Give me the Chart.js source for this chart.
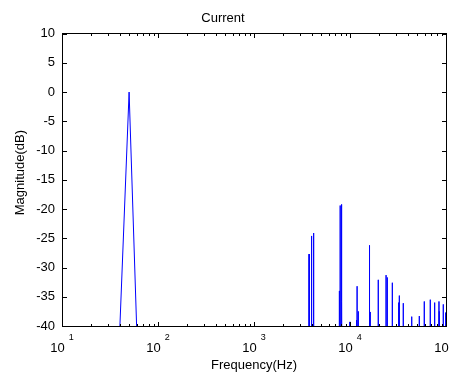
<!DOCTYPE html>
<html>
<head>
<meta charset="utf-8">
<script src="https://cdn.jsdelivr.net/npm/chart.js@4.4.0/dist/chart.umd.min.js"></script>
<style>
  html, body { margin: 0; padding: 0; background: #fff; }
  canvas { display: block; }
</style>
</head>
<body>
<canvas id="chart" width="451" height="373"></canvas>
<script>
// spectrum lines (Hz / dB)
const spikeHz = [40, 50, 60,
  3750, 3950, 4000, 4150, 4200,
  7750, 7900, 8100, 8250,
  10000,
  11700, 11850, 12200,
  15800, 15950, 16100, 16250,
  19700,
  23750, 24450,
  27600,
  32150, 32650,
  35900,
  43950,
  52700,
  59400,
  68600,
  76200,
  84500, 85100,
  93700,
  98400, 99800];
const spikeDb = [-40.5, 0, -40.5,
  -27.7, -24.6, -34.1, -24.1, -27.8,
  -34.0, -19.4, -19.2, -35.8,
  -39.3,
  -39.0, -33.2, -37.5,
  -37.6, -26.2, -26.2, -37.6,
  -32.1,
  -31.3, -31.7,
  -32.6,
  -36.0, -34.8,
  -36.1,
  -38.4,
  -38.3,
  -35.8,
  -35.5,
  -36.0,
  -35.8, -37.5,
  -36.3,
  -38.6, -37.7];
const binHz = 10;        // FFT bin spacing
const floorDb = -60;     // bins below the axis limit
const yTicks = [10, 5, 0, -5, -10, -15, -20, -25, -30, -35, -40];
const decades = [10, 100, 1000, 10000, 100000];

const FONT = '"Liberation Sans", Arial, sans-serif';

// line through the bins, dropping to the floor between separated lines
const points = [];
spikeHz.forEach((f, i) => {
  const prev = points.length ? points[points.length - 1].x : -Infinity;
  if (prev < f - binHz) points.push({ x: f - binHz, y: floorDb });
  points.push({ x: f, y: spikeDb[i] });
  const next = i + 1 < spikeHz.length ? spikeHz[i + 1] : Infinity;
  if (next > f + binHz) points.push({ x: f + binHz, y: floorDb });
});

// minor ticks of the log axis: 2..9 inside every decade
const minorTicks = [];
decades.slice(0, -1).forEach(d => {
  for (let m = 2; m <= 9; m++) minorTicks.push(d * m);
});

// matlab style box: frame, inward ticks, 10^n labels
const matlabBox = {
  id: 'matlabBox',
  afterDraw(chart) {
    const { ctx, chartArea: a, scales: { x, y } } = chart;
    // same pixel rows/cols the axis borders use
    const L = Math.round(a.left - 0.5), R = Math.round(a.right - 0.5);
    const T = Math.round(a.top - 0.5), B = Math.round(a.bottom - 0.5);
    ctx.save();
    ctx.fillStyle = '#000';
    ctx.fillRect(L, T, R - L + 1, 1);
    ctx.fillRect(L, B, R - L + 1, 1);
    ctx.fillRect(L, T, 1, B - T + 1);
    ctx.fillRect(R, T, 1, B - T + 1);
    // x ticks, top and bottom
    const xTick = (v, len) => {
      const px = Math.round(x.getPixelForValue(v));
      ctx.fillRect(px, B - len + 1, 1, len);
      ctx.fillRect(px, T, 1, len);
    };
    decades.forEach(v => xTick(v, 5));
    minorTicks.forEach(v => xTick(v, 3));
    // y ticks, left and right
    yTicks.forEach(v => {
      const py = Math.round(y.getPixelForValue(v));
      ctx.fillRect(L, py, 5, 1);
      ctx.fillRect(R - 4, py, 5, 1);
    });

    // 10^n labels
    ctx.textBaseline = 'alphabetic';
    ctx.textAlign = 'left';
    decades.forEach(d => {
      const exp = String(Math.round(Math.log10(d)));
      ctx.font = '13px ' + FONT;
      const wb = ctx.measureText('10').width;
      ctx.font = '9px ' + FONT;
      const we = ctx.measureText(exp).width;
      const px = x.getPixelForValue(d);
      const start = px - (wb + 4 + we) / 2;
      ctx.font = '13px ' + FONT;
      ctx.fillText('10', start, a.bottom + 25.5);
      ctx.font = '9px ' + FONT;
      ctx.fillText(exp, start + wb + 4, a.bottom + 13.5);
    });
    ctx.restore();
  }
};

const axisLine = { display: true, color: '#000', width: 1 };
const noGrid = { display: false, drawTicks: false };

new Chart(document.getElementById('chart'), {
  type: 'line',
  data: {
    datasets: [{
      data: points,
      borderColor: '#0000ff',
      borderWidth: 1,
      pointRadius: 0,
      tension: 0,
      fill: false
    }]
  },
  options: {
    responsive: false,
    animation: false,
    layout: { padding: { left: 0, right: 5, top: 0, bottom: 0 } },
    plugins: {
      legend: { display: false },
      tooltip: { enabled: false },
      title: {
        display: true,
        text: 'Current',
        color: '#000',
        font: { family: FONT, size: 13, weight: 'normal' },
        padding: { top: 11, bottom: 7 }
      }
    },
    scales: {
      x: {
        type: 'logarithmic',
        min: 10,
        max: 100000,
        grid: noGrid,
        border: axisLine,
        ticks: { display: false, autoSkip: false },
        title: {
          display: true,
          text: 'Frequency(Hz)',
          color: '#000',
          font: { family: FONT, size: 13 },
          padding: { top: 0, bottom: 0 }
        },
        afterFit: s => { s.height = 47; s.paddingLeft = 0; s.paddingRight = 0; }
      },
      // top edge of the box
      x2: {
        type: 'logarithmic',
        position: 'top',
        min: 10,
        max: 100000,
        grid: noGrid,
        border: axisLine,
        ticks: { display: false },
        afterFit: s => { s.height = 0; s.paddingLeft = 0; s.paddingRight = 0; }
      },
      y: {
        min: -40,
        max: 10,
        grid: noGrid,
        border: axisLine,
        afterBuildTicks: s => { s.ticks = yTicks.map(v => ({ value: v })); },
        ticks: {
          color: '#000',
          font: { family: FONT, size: 13 },
          padding: 7
        },
        title: {
          display: true,
          text: '    Magnitude(dB)',
          color: '#000',
          font: { family: FONT, size: 13 },
          padding: { top: 13, bottom: 0 }
        },
        afterFit: s => { s.width = 62; s.paddingTop = 0; s.paddingBottom = 0; }
      },
      // right edge of the box
      y2: {
        position: 'right',
        min: -40,
        max: 10,
        grid: noGrid,
        border: axisLine,
        ticks: { display: false },
        afterFit: s => { s.width = 0; s.paddingTop = 0; s.paddingBottom = 0; }
      }
    }
  },
  plugins: [matlabBox]
});
</script>
</body>
</html>
